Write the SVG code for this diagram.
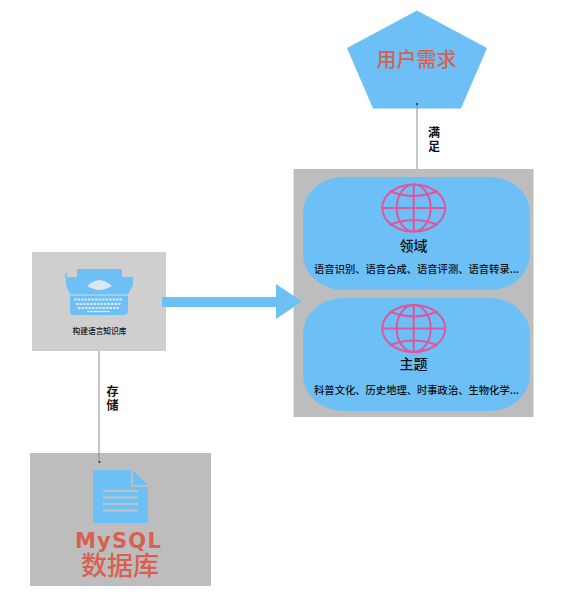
<svg xmlns="http://www.w3.org/2000/svg" width="566" height="599" viewBox="0 0 566 599">
<style>
text{font-family:"Noto Sans CJK SC","Liberation Sans",sans-serif;text-anchor:middle;fill:#111}
.blue{fill:#6cc0f5}
.card{fill:#6cc0f5}
.panel{fill:#bdbdbd}
.globe{fill:none;stroke:#e0569e;stroke-width:2}
.edge{stroke:#8c8c8c;stroke-width:1;fill:none}
.tip{fill:#222}
.lab{font-size:12px;font-weight:700}
.title{font-size:14px;font-weight:500}
.sub{font-size:10.300px;font-weight:500}
.red{fill:#d95f50;font-weight:500}
</style>
<defs>
<g id="globeIcon" class="globe">
<ellipse cx="0" cy="0" rx="31.500" ry="23.500"/>
<ellipse cx="0" cy="0" rx="17" ry="23.500"/>
<path d="M0-23.500V23.500M-31.500 0H31.500M-24-17Q0-7 24-17M-24 17Q0 7 24 17"/>
</g>
</defs>
<g id="user-need">
<path class="blue" d="M417 10.500L487 48L461 108.500H373L347 48Z"/>
<text class="red" x="416.500" y="67" font-size="20">用户需求</text>
</g>
<g id="panel"><rect class="panel" x="293.500" y="169" width="240" height="248"/></g>
<g id="domain">
<rect class="card" x="303" y="177" width="227" height="113" rx="40" ry="36"/>
<use href="#globeIcon" x="413.700" y="208"/>
<text class="title" x="413.500" y="251">领域</text>
<text class="sub" x="416.500" y="272.500">语音识别、语音合成、语音评测、语音转录...</text>
</g>
<g id="topic">
<rect class="card" x="303" y="298" width="227" height="113" rx="40" ry="36"/>
<use href="#globeIcon" x="413.700" y="328.500"/>
<text class="title" x="413.500" y="369">主题</text>
<text class="sub" x="416.500" y="393.500">科普文化、历史地理、时事政治、生物化学...</text>
</g>
<g id="knowledge">
<rect x="32" y="252" width="134" height="99" fill="#cfcfcf"/>
<path class="blue" d="M77 269H122V277H133V285L128 294V311Q128 315 124 315H74Q70 315 70 311V294L66 285V277H77Z"/>
<path d="M65.500 278L66.500 273" stroke="#6cc0f5" stroke-width="1.500" fill="none"/>
<path d="M87 286Q94 280 99.500 280Q105 280 112 286Q105 290 99.500 290Q94 290 87 286Z" fill="#d7e8f2"/>
<path d="M70 295H128" stroke="#d7e8f2" stroke-width="0.800"/>
<path d="M74 299.500H123M76 304H121M78 308H119" stroke="#d7e8f2" stroke-width="2" stroke-dasharray="2.500 1"/>
<path d="M87 311.500H110" stroke="#d7e8f2" stroke-width="1.200"/>
<text x="99.500" y="333.500" font-size="7.700" font-weight="500">构建语言知识库</text>
</g>
<g id="mysql">
<rect class="panel" x="30" y="453" width="181" height="133"/>
<path class="blue" d="M93 470H131V487H148V523H93Z"/>
<path class="blue" d="M133 471L148 485H133Z"/>
<path d="M103 491H138M103 497.500H138M103 504H138M103 510.500H138" stroke="#bfc3c6" stroke-width="2"/>
<text class="red" font-size="26"><tspan x="118.500" y="548" style="font-family:'DejaVu Sans',sans-serif;font-size:21px;font-weight:700" letter-spacing="1.200">MySQL</tspan><tspan x="120" y="575">数据库</tspan></text>
</g>
<g id="connectors">
<path class="edge" d="M417 169V104"/>
<path class="edge" d="M99 351V462"/>
<circle class="tip" cx="417" cy="104" r="0.900"/>
<circle class="tip" cx="99.500" cy="462" r="0.900"/>
<path class="blue" d="M162 297H276V284L302 301.500L276 319V307H162Z"/>
<text class="lab"><tspan x="434" y="137">满</tspan><tspan x="434" y="151">足</tspan></text>
<text class="lab"><tspan x="112.500" y="396">存</tspan><tspan x="112.500" y="410">储</tspan></text>
</g>
</svg>
